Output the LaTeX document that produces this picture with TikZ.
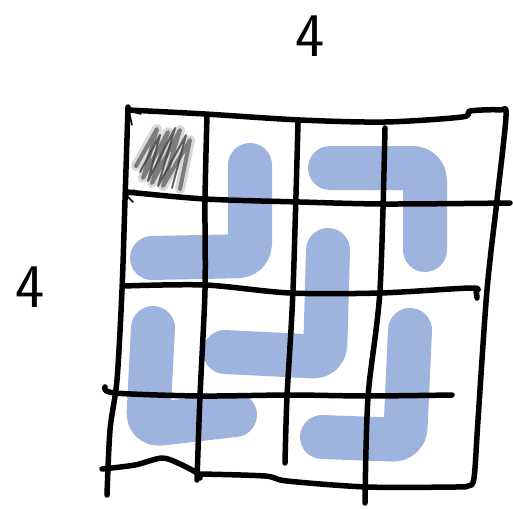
\documentclass[tikz,border=0pt]{standalone}
\usepackage{tikz}
\usetikzlibrary{positioning}
\definecolor{pipeblue}{RGB}{158,179,222}

\begin{document}
\begin{tikzpicture}[
  x=1pt,y=-1pt,
  ink/.style={draw=black,line width=5.5pt,line cap=round,line join=round},
  thin ink/.style={draw=black,line width=1.5pt,line cap=round},
  pipe/.style={draw=pipeblue,line width=44pt,line cap=round,line join=round,rounded corners=12pt},
  shade/.style={draw=black,line cap=round,line join=round},
  lab/.style={font=\sffamily\fontsize{62}{62}\selectfont,inner sep=0pt}]

 \useasboundingbox (0,0) rectangle (513,508);

 % ---- pipes ----
 \draw[pipe] (152,258) -- (250,256) -- (250,165);
 \draw[pipe] (330,168) -- (425,168) -- (425,250);
 \draw[pipe] (328,250) -- (325,357) -- (225,352);
 \draw[pipe] (153,328) -- (148,425) -- (235,415);
 \draw[pipe] (410,330) -- (405,440) -- (322,437);

 % ---- shaded corner cell ----
 \draw[shade,black!30,line width=10pt,opacity=.5]
   (136,166) -- (157,129) -- (143,178) -- (168,132) -- (152,183) -- (180,130) -- (163,186) -- (190,140) -- (180,189);
 \draw[shade,black!60,line width=4pt,opacity=.8]
   (136,166) -- (157,129) -- (143,178) -- (168,132) -- (152,183) -- (180,130) -- (163,186) -- (190,140) -- (180,189);
 \draw[shade,black!75,line width=2pt,opacity=.8]
   (140,172) -- (160,135) -- (148,181) -- (175,128) -- (158,186) -- (186,135) -- (172,188);

 % ---- grid ----
 \draw[ink] plot[smooth,tension=.5] coordinates
   {(128,110) (205,114) (300,120) (385,122) (462,117) (470,111) (500,110) (506,116)
    (497,200) (487,290) (478,420) (474,478) (468,486) (455,487)
    (367,487) (287,481) (265,476) (200,474)};
 \draw[ink] plot[smooth,tension=.5] coordinates
   {(102,469) (135,465) (162,458) (180,464) (197,473) (200,478)};
 \draw[ink] plot[smooth,tension=.5] coordinates
   {(128,107) (125,200) (122,290) (117,380) (110,430) (107,495)};
 \draw[ink] plot[smooth,tension=.5] coordinates
   {(127,192) (205,199) (300,202) (385,204) (510,203)};
 \draw[ink] plot[smooth,tension=.5] coordinates
   {(123,286) (205,285) (290,293) (380,293) (471,288) (476,292) (477,298)};
 \draw[ink] plot[smooth,tension=.5] coordinates
   {(105,387) (115,393) (200,396) (290,395) (367,396) (452,395)};
 \draw[ink] plot[smooth,tension=.5] coordinates
   {(207,115) (205,200) (205,290) (200,396) (197,480)};
 \draw[ink] plot[smooth,tension=.5] coordinates
   {(298,123) (293,290) (287,397) (285,463)};
 \draw[ink] plot[smooth,tension=.5] coordinates
   {(385,128) (380,290) (368,397) (365,503)};
 \draw[thin ink] (141,114) -- (129,111) -- (132,125);
 \draw[thin ink] (134,190) -- (127,196) -- (133,202);

 % ---- sizes ----
 \node[lab] (cols) at (310,36) {4};
 \node[lab] (rows) at (30,287) {4};
\end{tikzpicture}
\end{document}
